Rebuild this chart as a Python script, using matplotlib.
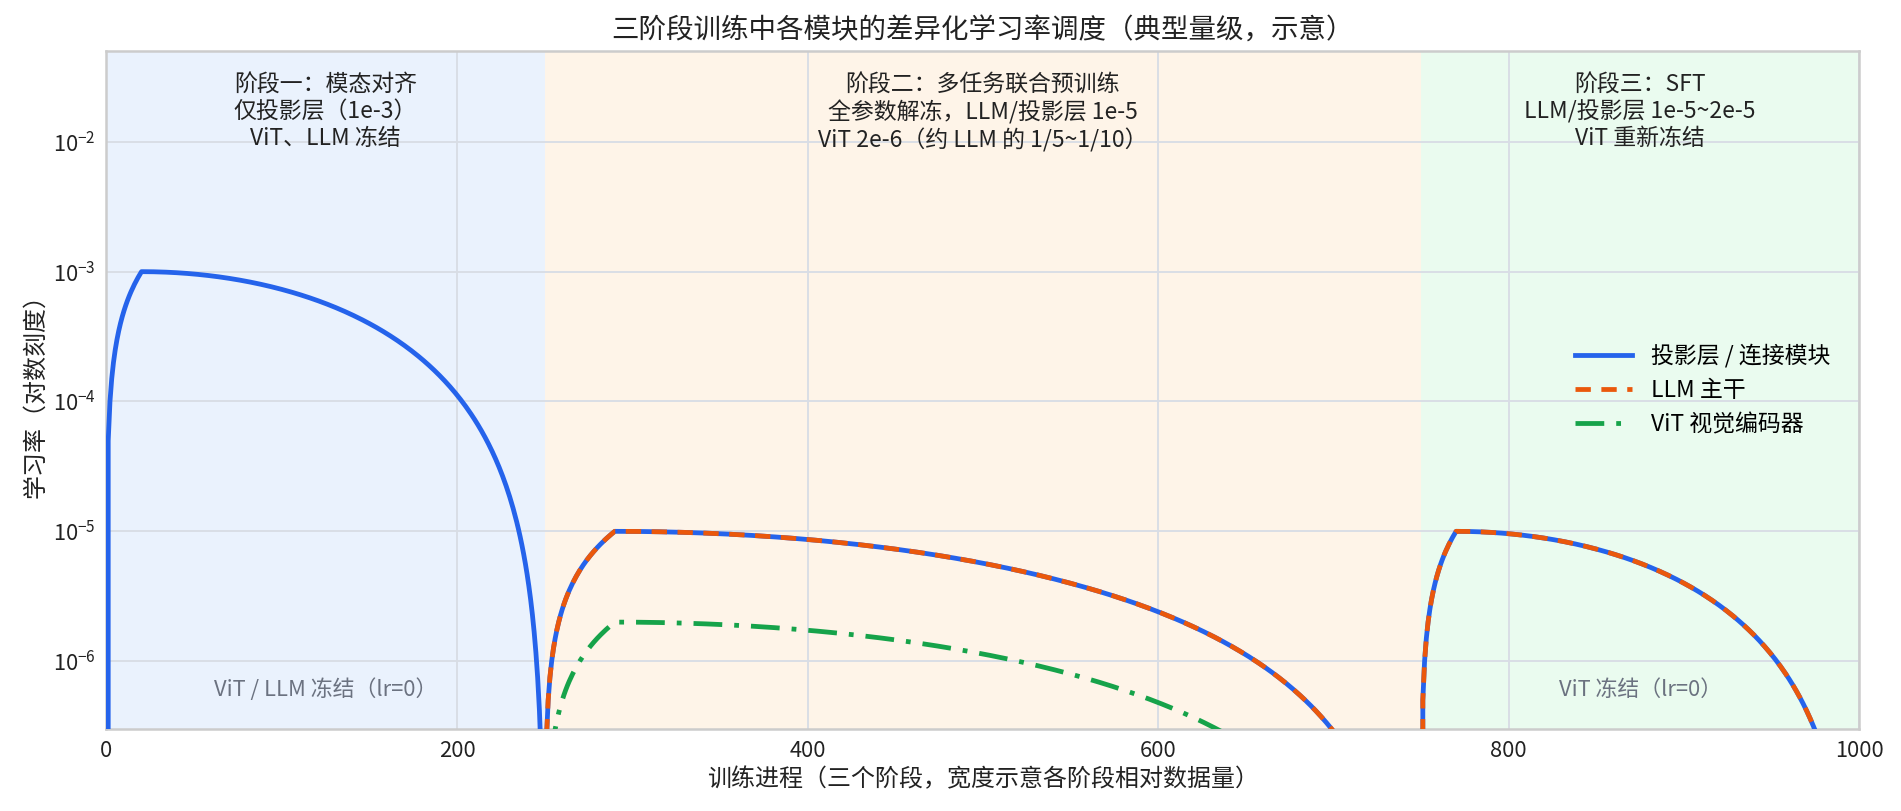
import numpy as np
import matplotlib
matplotlib.use("Agg")
import matplotlib.pyplot as plt

plt.rcParams['font.family'] = ['Noto Sans CJK SC', 'DejaVu Sans']
plt.rcParams['axes.unicode_minus'] = False

# ---- data (schedule parameters) ----
stage_bounds = [0, 250, 750, 1000]
warmup_steps = [20, 40, 20]
proj_peak = [1e-3, 1e-5, 1e-5]
llm_peak = [None, 1e-5, 1e-5]
vit_peak = [None, 2e-6, None]
stage_colors = ['#eaf2fd', '#fef4e8', '#eafbef']
stage_texts = ['阶段一：模态对齐\n仅投影层（1e-3）\nViT、LLM 冻结',
               '阶段二：多任务联合预训练\n全参数解冻，LLM/投影层 1e-5\nViT 2e-6（约 LLM 的 1/5~1/10）',
               '阶段三：SFT\nLLM/投影层 1e-5~2e-5\nViT 重新冻结']
frozen_notes = [(125, 'ViT / LLM 冻结（lr=0）'), (875, 'ViT 冻结（lr=0）')]
series_names = ['投影层 / 连接模块', 'LLM 主干', 'ViT 视觉编码器']


def stage_curve(i, peak):
    s, e = stage_bounds[i], stage_bounds[i + 1]
    x = np.arange(s, e + 1, dtype=float)
    if peak is None:
        return x, np.full_like(x, np.nan)
    w = warmup_steps[i]
    t = x - s
    y = np.where(t < w, peak * t / w,
                 peak * 0.5 * (1 + np.cos(np.pi * (t - w) / (e - s - w))))
    return x, y


def full_curve(peaks):
    xs, ys = [], []
    for i, p in enumerate(peaks):
        x, y = stage_curve(i, p)
        xs.append(x); ys.append(y)
        xs.append([np.nan]); ys.append([np.nan])
    return np.concatenate(xs), np.concatenate(ys)


fig = plt.figure(figsize=(12.674, 5.407), dpi=150)
ax = fig.add_axes([0.056, 0.101, 0.922, 0.836])
ax.set_yscale('log')

for i, c in enumerate(stage_colors):
    ax.axvspan(stage_bounds[i], stage_bounds[i + 1], color=c, zorder=0, lw=0)

xp, yp = full_curve(proj_peak)
xl, yl = full_curve(llm_peak)
xv, yv = full_curve(vit_peak)
ax.plot(xp, yp, color='#2563eb', lw=2.3, label=series_names[0], zorder=3)
ax.plot(xl, yl, color='#ea580c', lw=2.3, ls=(0, (3.2, 2.2)), label=series_names[1], zorder=4)
ax.plot(xv, yv, color='#16a34a', lw=2.3, ls=(0, (6, 2.5, 1, 2.5)), label=series_names[2], zorder=3)

ax.set_xlim(0, 1000)
ax.set_ylim(3e-7, 5e-2)
ax.set_xticks([0, 200, 400, 600, 800, 1000])
ax.set_yticks([1e-6, 1e-5, 1e-4, 1e-3, 1e-2])
ax.minorticks_off()
ax.grid(True, color='#d8dde5', lw=0.9, zorder=1)
ax.set_axisbelow(True)
for sp in ax.spines.values():
    sp.set_color('#cccccc')
    sp.set_linewidth(1.2)
ax.tick_params(length=0, labelsize=10.5, colors='#222222', pad=5)

for i, txt in enumerate(stage_texts):
    xc = (stage_bounds[i] + stage_bounds[i + 1]) / 2
    ax.text(xc, 0.967, txt, transform=ax.get_xaxis_transform(), ha='center', va='top',
            fontsize=11, color='#222222', linespacing=1.2)
for xc, txt in frozen_notes:
    ax.text(xc, 6e-7, txt, ha='center', va='center', fontsize=10.5, color='#6b7280')

ax.set_title('三阶段训练中各模块的差异化学习率调度（典型量级，示意）', fontsize=13.2, color='#222222', pad=6)
ax.set_xlabel('训练进程（三个阶段，宽度示意各阶段相对数据量）', fontsize=11.5, color='#222222', labelpad=3)
ax.set_ylabel('学习率（对数刻度）', fontsize=11.5, color='#222222', labelpad=3)

leg = ax.legend(loc='center right', frameon=False, fontsize=11, handlelength=2.5,
                bbox_to_anchor=(0.995, 0.5))

fig.savefig('out.png', dpi=150)
